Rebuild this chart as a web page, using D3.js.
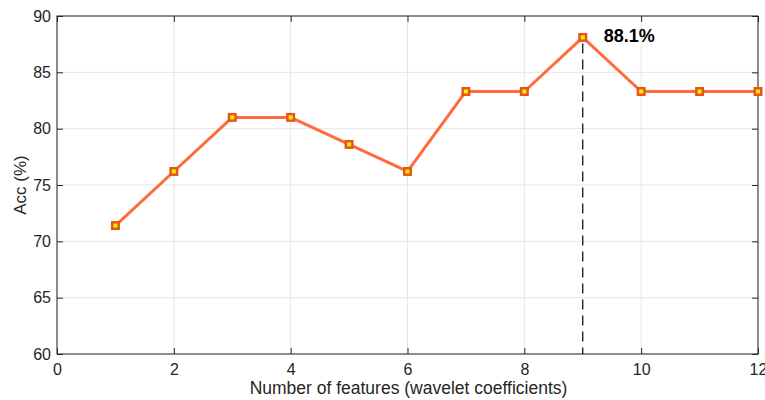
<!DOCTYPE html>
<html><head><meta charset="utf-8">
<script src="https://cdn.jsdelivr.net/npm/d3@7"></script>
<style>body{margin:0;background:#fff}svg{display:block}text{font-family:"Liberation Sans",Arial,sans-serif}</style>
</head><body><svg id="c" width="765" height="400"></svg>
<script>
const features = [1,2,3,4,5,6,7,8,9,10,11,12];
const accuracy = [71.4,76.2,81.0,81.0,78.6,76.2,83.3,83.3,88.1,83.3,83.3,83.3];
const xTicks = [0,2,4,6,8,10,12];
const yTicks = [60,65,70,75,80,85,90];
const peakIndex = 8;
const peakLabel = "88.1%";

const svg = d3.select("#c");
const L=57,R=758,T=16,B=354;
const x = d3.scaleLinear().domain([0,12]).range([L,R]);
const y = d3.scaleLinear().domain([60,90]).range([B,T]);
const ink="#262626";

// grid
svg.append("g").selectAll("line").data(xTicks).join("line")
 .attr("x1",d=>x(d)).attr("x2",d=>x(d)).attr("y1",T).attr("y2",B)
 .attr("stroke","#e6e6e6").attr("stroke-width",1);
svg.append("g").selectAll("line").data(yTicks).join("line")
 .attr("x1",L).attr("x2",R).attr("y1",d=>y(d)).attr("y2",d=>y(d))
 .attr("stroke","#e6e6e6").attr("stroke-width",1);

// axes
const fmt = d3.format("d");
const ax = (g)=>{g.select(".domain").remove(); g.selectAll("line").attr("stroke",ink); g.selectAll("text").attr("fill",ink).style("font-size","16px");};
svg.append("g").attr("transform",`translate(0,${B})`)
 .call(d3.axisBottom(x).tickValues(xTicks).tickFormat(fmt).tickSizeInner(-6).tickSizeOuter(0).tickPadding(10)).call(ax);
svg.append("g").attr("transform",`translate(0,${T})`)
 .call(d3.axisTop(x).tickValues(xTicks).tickFormat("").tickSizeInner(-6).tickSizeOuter(0)).call(ax);
svg.append("g").attr("transform",`translate(${L},0)`)
 .call(d3.axisLeft(y).tickValues(yTicks).tickFormat(fmt).tickSizeInner(-6).tickSizeOuter(0).tickPadding(6)).call(ax);
svg.append("g").attr("transform",`translate(${R},0)`)
 .call(d3.axisRight(y).tickValues(yTicks).tickFormat("").tickSizeInner(-6).tickSizeOuter(0)).call(ax);
svg.append("rect").attr("x",L).attr("y",T).attr("width",R-L).attr("height",B-T)
 .attr("fill","none").attr("stroke",ink).attr("stroke-width",1);

// dashed peak line
svg.append("line").attr("x1",x(features[peakIndex])).attr("x2",x(features[peakIndex]))
 .attr("y1",y(accuracy[peakIndex])+6).attr("y2",B)
 .attr("stroke","#000").attr("stroke-width",1.2).attr("stroke-dasharray","10,6");

// line
const line = d3.line().x((d,i)=>x(features[i])).y(d=>y(d));
svg.append("path").datum(accuracy).attr("d",line).attr("fill","none")
 .attr("stroke","#ff6b3d").attr("stroke-width",3).attr("stroke-linejoin","round");

// markers
svg.append("g").selectAll("rect").data(accuracy).join("rect")
 .attr("x",(d,i)=>x(features[i])-3.25).attr("y",d=>y(d)-3.25).attr("width",6.5).attr("height",6.5)
 .attr("fill","#ffee00").attr("stroke","#e4571b").attr("stroke-width",2.5);

// annotation
svg.append("text").attr("x",x(features[peakIndex])+21).attr("y",42)
 .attr("font-weight","bold").style("font-size","18px").attr("fill","#000").text(peakLabel);

// labels
svg.append("text").attr("x",(L+R)/2 + 1).attr("y",394).attr("text-anchor","middle")
 .style("font-size","17.5px").attr("fill",ink).text("Number of features (wavelet coefficients)");
svg.append("text").attr("transform",`translate(26,${(T+B)/2}) rotate(-90)`).attr("text-anchor","middle")
 .style("font-size","17px").attr("fill",ink).text("Acc (%)");
</script></body></html>
